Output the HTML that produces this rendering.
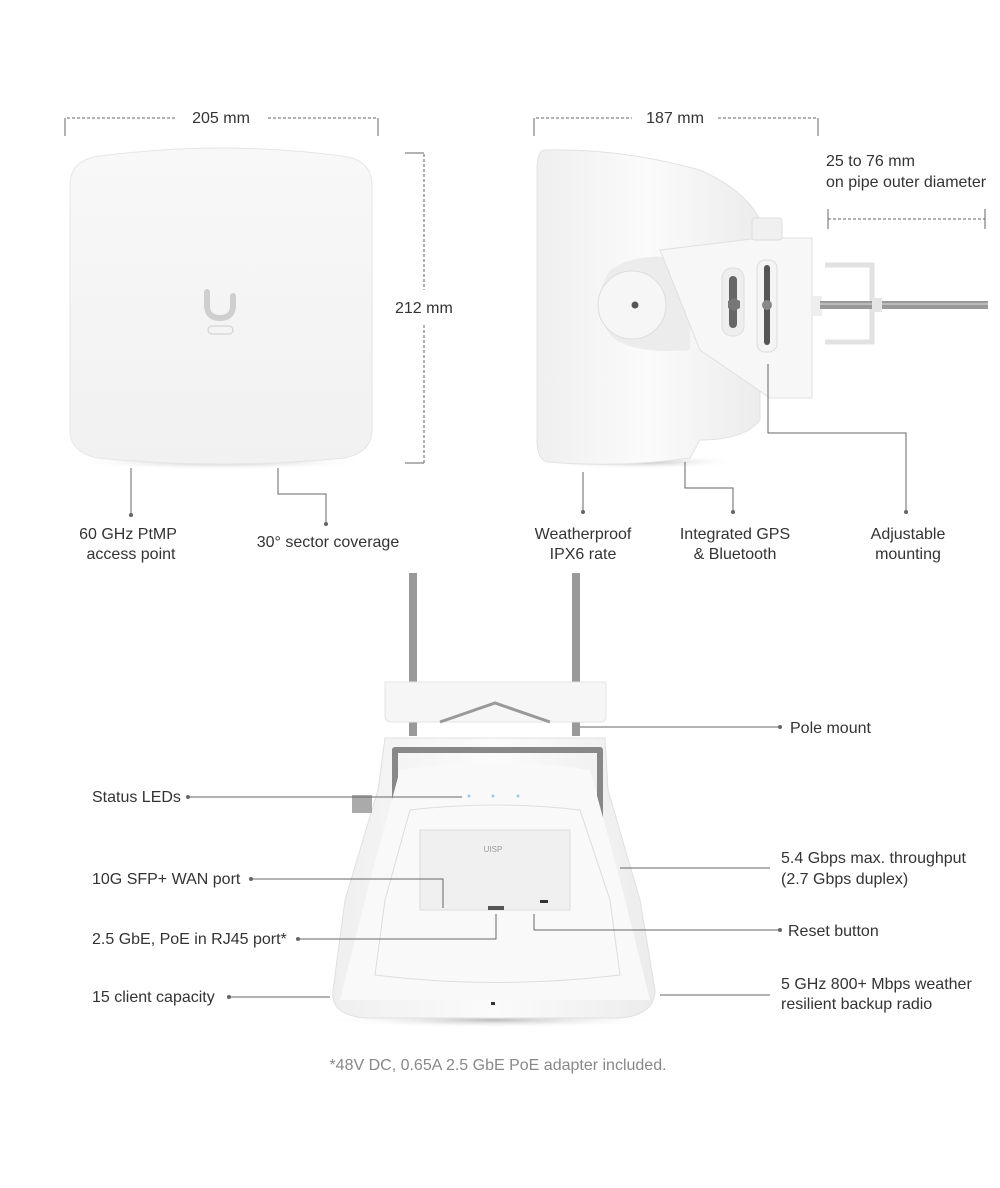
<!DOCTYPE html>
<html><head><meta charset="utf-8"><style>
html,body{margin:0;padding:0;background:#fff;}
svg{display:block;}
text{font-family:"Liberation Sans",sans-serif;font-size:16px;fill:#333;}
</style></head><body>
<svg width="1000" height="1188" viewBox="0 0 1000 1188" xmlns="http://www.w3.org/2000/svg">
<defs>
<linearGradient id="g1" x1="0" y1="0" x2="0" y2="1"><stop offset="0" stop-color="#f8f8f8"/><stop offset="1" stop-color="#f1f1f1"/></linearGradient>
<linearGradient id="g2" x1="0" y1="0" x2="1" y2="0"><stop offset="0" stop-color="#efefef"/><stop offset="0.5" stop-color="#fbfbfb"/><stop offset="1" stop-color="#ececec"/></linearGradient>
<radialGradient id="sh"><stop offset="0" stop-color="#bbb"/><stop offset="1" stop-color="#fff" stop-opacity="0"/></radialGradient>
</defs>

<!-- front device -->
<ellipse cx="221" cy="462" rx="150" ry="8" fill="url(#sh)"/>
<path d="M70 185Q70 160 100 156Q221 140 342 156Q372 160 372 185V430Q372 452 345 458Q221 470 97 458Q70 452 70 430Z" fill="url(#g1)" stroke="#e6e6e6"/>
<path d="M207 292V305Q207 318 220 318Q233 318 233 305V296" fill="none" stroke="#cfcfcf" stroke-width="6" stroke-linecap="round"/>
<rect x="208" y="326" width="25" height="8" rx="4" fill="none" stroke="#ccc" stroke-width="1"/>

<!-- side device -->
<ellipse cx="640" cy="462" rx="100" ry="7" fill="url(#sh)"/>
<path d="M545 150Q620 148 700 170Q745 190 760 220L760 420Q745 440 700 440L690 458Q620 468 548 462Q537 460 537 440V170Q537 150 545 150Z" fill="url(#g2)" stroke="#e2e2e2"/>
<path d="M690 260Q640 250 610 270Q590 300 610 335Q630 355 690 350Z" fill="#ececec"/>
<circle cx="632" cy="305" r="34" fill="#f6f6f6" stroke="#ddd"/>
<circle cx="635" cy="305" r="3.5" fill="#555"/>
<path d="M660 250L760 238H812V398H770L700 350Z" fill="#f7f7f7" stroke="#e0e0e0"/>
<rect x="752" y="218" width="30" height="22" rx="3" fill="#f0f0f0" stroke="#ddd"/>
<rect x="722" y="268" width="22" height="68" rx="10" fill="#eee" stroke="#ddd"/>
<rect x="729" y="276" width="8" height="52" rx="4" fill="#666"/>
<rect x="757" y="260" width="20" height="92" rx="8" fill="#f4f4f4" stroke="#ddd"/>
<rect x="764" y="265" width="6" height="80" rx="3" fill="#555"/>
<circle cx="767" cy="305" r="5" fill="#888"/>
<polygon points="734,298 740,301 740,308 734,311 728,308 728,301" fill="#777"/>
<rect x="812" y="296" width="10" height="20" fill="#eee"/>
<path d="M825 265H872V342H825" fill="none" stroke="#e2e2e2" stroke-width="5"/>
<rect x="820" y="301" width="168" height="8" fill="#999"/>
<rect x="820" y="303" width="168" height="2" fill="#bbb"/>
<rect x="872" y="298" width="10" height="14" fill="#e5e5e5"/>

<!-- bottom device -->
<rect x="409" y="573" width="8" height="110" fill="#999"/>
<rect x="572" y="573" width="8" height="110" fill="#999"/>
<rect x="409" y="720" width="8" height="16" fill="#999"/>
<rect x="572" y="720" width="8" height="16" fill="#999"/>
<path d="M385 682H606V716Q606 722 600 722H392Q385 722 385 716Z" fill="#f6f6f6" stroke="#e4e4e4"/>
<path d="M440 722L495 703L550 722" fill="none" stroke="#999" stroke-width="3"/>
<ellipse cx="493" cy="1020" rx="170" ry="8" fill="url(#sh)"/>
<path d="M385 738H605L608 790L640 900L655 990Q655 1015 620 1018H365Q330 1015 333 990L345 900L378 790Z" fill="url(#g2)" stroke="#e0e0e0"/>
<path d="M395 750H600V830H395Z" fill="none" stroke="#888" stroke-width="6" stroke-linejoin="round"/>
<rect x="352" y="795" width="20" height="18" fill="#aaa"/>
<path d="M400 770Q495 755 590 770L620 880L650 1000H340L370 880Z" fill="#f9f9f9"/>
<path d="M410 810Q495 800 580 810L610 900L620 975Q495 990 375 975L385 900Z" fill="none" stroke="#ddd"/>
<rect x="420" y="830" width="150" height="80" fill="#f0f0f0" stroke="#ddd"/>
<text x="493" y="852" text-anchor="middle" style="font-size:8px;fill:#999">UISP</text>
<rect x="540" y="900" width="8" height="3" fill="#333"/>
<rect x="488" y="906" width="16" height="4" fill="#555"/>
<rect x="491" y="1002" width="4" height="3" fill="#333"/>
<g fill="#9bc9e8"><circle cx="469" cy="796" r="1.5"/><circle cx="493" cy="796" r="1.5"/><circle cx="518" cy="796" r="1.5"/></g>

<g stroke="#666" stroke-width="1" fill="none">
<path d="M65 136V118H175M268 118H378V136" stroke-dasharray="3,2"/>
<path d="M65 118V136M378 118V136"/>
<path d="M534 136V118H632M718 118H818V136" stroke-dasharray="3,2"/>
<path d="M534 118V136M818 118V136"/>
<path d="M405 153H424V290M424 325V463H405" stroke-dasharray="3,2"/>
<path d="M405 153H424M405 463H424"/>
<path d="M828 219H985" stroke-dasharray="3,2"/>
<path d="M828 209V229M985 209V229"/>
<path d="M131 468V515"/>
<path d="M278 468V494H326V524"/>
<path d="M583 472V512"/>
<path d="M685 462V488H733V512"/>
<path d="M768 364V433H906V512"/>
<path d="M580 727H780"/>
<path d="M188 797H462"/>
<path d="M251 879H443V908"/>
<path d="M298 939H496V914"/>
<path d="M229 997H330"/>
<path d="M620 868H770"/>
<path d="M534 914V930H780"/>
<path d="M660 995H770"/>
</g>
<g fill="#666">
<circle cx="131" cy="515" r="2"/><circle cx="326" cy="524" r="2"/>
<circle cx="583" cy="512" r="2"/><circle cx="733" cy="512" r="2"/><circle cx="906" cy="512" r="2"/>
<circle cx="780" cy="727" r="2"/><circle cx="188" cy="797" r="2"/><circle cx="251" cy="879" r="2"/>
<circle cx="298" cy="939" r="2"/><circle cx="229" cy="997" r="2"/><circle cx="780" cy="930" r="2"/>
</g>

<text x="221" y="123" text-anchor="middle">205 mm</text>
<text x="675" y="123" text-anchor="middle">187 mm</text>
<text x="395" y="313">212 mm</text>
<text x="826" y="166">25 to 76 mm</text>
<text x="826" y="187">on pipe outer diameter</text>
<text x="128" y="539" text-anchor="middle">60 GHz PtMP</text>
<text x="131" y="559" text-anchor="middle">access point</text>
<text x="328" y="547" text-anchor="middle">30° sector coverage</text>
<text x="583" y="539" text-anchor="middle">Weatherproof</text>
<text x="583" y="559" text-anchor="middle">IPX6 rate</text>
<text x="735" y="539" text-anchor="middle">Integrated GPS</text>
<text x="735" y="559" text-anchor="middle">&amp; Bluetooth</text>
<text x="908" y="539" text-anchor="middle">Adjustable</text>
<text x="908" y="559" text-anchor="middle">mounting</text>
<text x="790" y="733">Pole mount</text>
<text x="92" y="802">Status LEDs</text>
<text x="92" y="884">10G SFP+ WAN port</text>
<text x="92" y="944">2.5 GbE, PoE in RJ45 port*</text>
<text x="92" y="1002">15 client capacity</text>
<text x="781" y="863">5.4 Gbps max. throughput</text>
<text x="781" y="884">(2.7 Gbps duplex)</text>
<text x="788" y="936">Reset button</text>
<text x="781" y="989">5 GHz 800+ Mbps weather</text>
<text x="781" y="1009">resilient backup radio</text>
<text x="498" y="1070" text-anchor="middle" style="fill:#888">*48V DC, 0.65A 2.5 GbE PoE adapter included.</text>
</svg>
</body></html>
